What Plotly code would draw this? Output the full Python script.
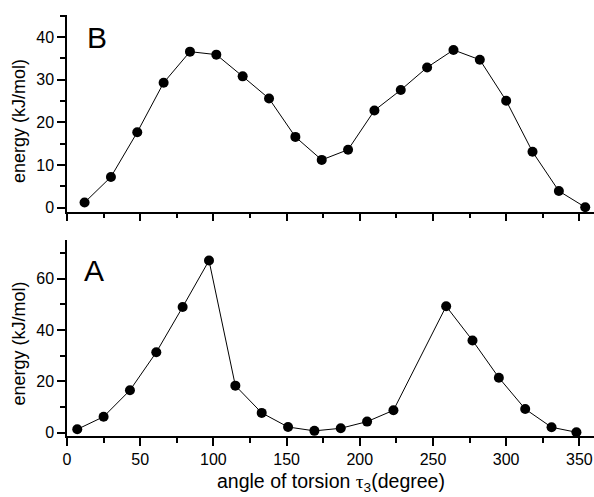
import plotly.graph_objects as go

# Panel B (top)
angle_B = [12, 30, 48, 66, 84, 102, 120, 138, 156, 174, 192, 210, 228, 246, 264, 282, 300, 318, 336, 354]
energy_B = [1.2, 7.2, 17.7, 29.3, 36.6, 35.9, 30.8, 25.6, 16.6, 11.2, 13.6, 22.8, 27.6, 32.9, 37.0, 34.7, 25.1, 13.1, 3.9, 0.1]

# Panel A (bottom)
angle_A = [7, 25, 43, 61, 79, 97, 115, 133, 151, 169, 187, 205, 223, 259, 277, 295, 313, 331, 348]
energy_A = [1.3, 6.2, 16.5, 31.3, 48.9, 67.0, 18.3, 7.7, 2.2, 0.7, 1.7, 4.3, 8.7, 49.2, 35.9, 21.4, 9.2, 2.1, 0.15]

FONT = "Liberation Sans, Arial, sans-serif"

fig = go.Figure()
fig.add_trace(go.Scatter(x=angle_B, y=energy_B, mode="lines+markers", xaxis="x2", yaxis="y2",
                         line=dict(color="black", width=1),
                         marker=dict(color="black", size=10), cliponaxis=False, showlegend=False))
fig.add_trace(go.Scatter(x=angle_A, y=energy_A, mode="lines+markers", xaxis="x", yaxis="y",
                         line=dict(color="black", width=1),
                         marker=dict(color="black", size=10), cliponaxis=False, showlegend=False))

axis_common = dict(showline=True, linecolor="black", linewidth=1.5, ticks="outside", ticklen=8,
                   tickwidth=1.5, tickcolor="black", showgrid=False, zeroline=False, automargin=False,
                   tickfont=dict(family=FONT, size=16, color="black"))

minor_style = dict(ticklen=5, tickwidth=1.5, ticks="outside", tickcolor="black", showgrid=False)

fig.update_layout(
    width=594, height=497,
    margin=dict(l=67, r=0, t=15, b=61, autoexpand=False),
    plot_bgcolor="white", paper_bgcolor="white",
    xaxis=dict(domain=[0, 1], range=[0, 360], anchor="y", dtick=50, tick0=0,
               minor=dict(dtick=25, **minor_style), **axis_common),
    xaxis2=dict(domain=[0, 1], range=[0, 360], anchor="y2", dtick=50, tick0=0, showticklabels=False,
                minor=dict(dtick=25, **minor_style), **axis_common),
    yaxis=dict(domain=[0, 0.4656], range=[-1.3, 75], anchor="x", dtick=20, tick0=0,
               minor=dict(dtick=10, **minor_style), **axis_common),
    yaxis2=dict(domain=[0.5328, 1], range=[-0.95, 45.2], anchor="x2", dtick=10, tick0=0,
                minor=dict(dtick=5, **minor_style), **axis_common),
    annotations=[
        dict(text="B", xref="x2", yref="y2", x=12, y=40, xanchor="left", yanchor="middle",
             showarrow=False, font=dict(family=FONT, size=30, color="black")),
        dict(text="A", xref="x", yref="y", x=10.5, y=63, xanchor="left", yanchor="middle",
             showarrow=False, font=dict(family=FONT, size=30, color="black")),
        dict(text="energy (kJ/mol)", xref="paper", yref="paper", x=-0.092, y=0.747, xanchor="center",
             yanchor="middle", textangle=-90, showarrow=False,
             font=dict(family=FONT, size=18, color="black")),
        dict(text="energy (kJ/mol)", xref="paper", yref="paper", x=-0.092, y=0.2185, xanchor="center",
             yanchor="middle", textangle=-90, showarrow=False,
             font=dict(family=FONT, size=18, color="black")),
        dict(text='angle of torsion <span style="font-family:Liberation Serif">τ</span><sub>3</sub>(degree)',
             xref="paper", yref="paper", x=0.5, y=-0.11, xanchor="center", yanchor="middle",
             showarrow=False, font=dict(family=FONT, size=19.5, color="black")),
    ],
)

fig.write_html("out.html", config={"displayModeBar": False},
               post_script="document.body.style.margin='0';document.body.style.overflow='hidden';")
